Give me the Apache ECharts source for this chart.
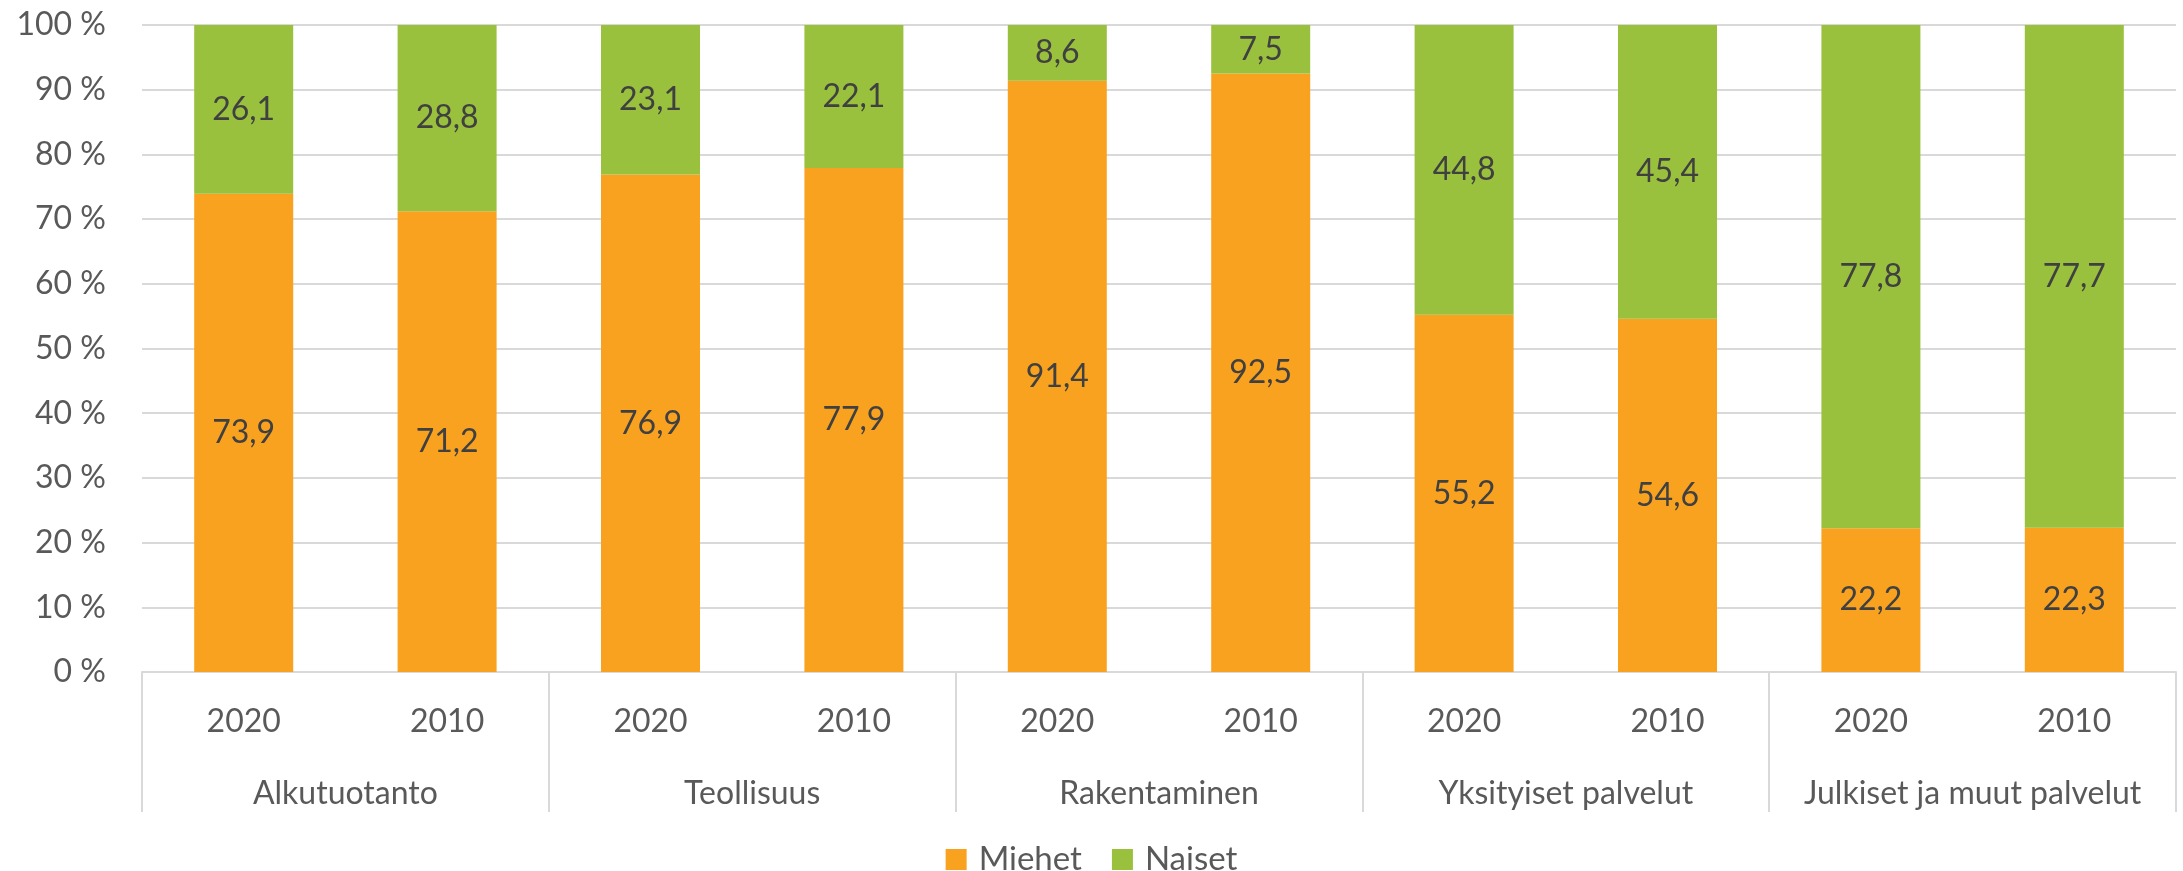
<!DOCTYPE html>
<html>
<head>
<meta charset="utf-8">
<script src="https://cdn.jsdelivr.net/npm/echarts@6/dist/echarts.min.js"></script>
<style>
  html, body { margin: 0; padding: 0; background: #fff; }
  #chart { width: 2183px; height: 871px; }
</style>
</head>
<body>
<div id="chart"></div>
<script>
// years under each bar, sector groups below them
const years = ['2020', '2010', '2020', '2010', '2020', '2010', '2020', '2010', '2020', '2010']
const sectors = ['Alkutuotanto', 'Teollisuus', 'Rakentaminen', 'Yksityiset palvelut', 'Julkiset ja muut palvelut']
const miehet = [73.9, 71.2, 76.9, 77.9, 91.4, 92.5, 55.2, 54.6, 22.2, 22.3]
const naiset = [26.1, 28.8, 23.1, 22.1, 8.6, 7.5, 44.8, 45.4, 77.8, 77.7]
const yTicks = [0, 10, 20, 30, 40, 50, 60, 70, 80, 90, 100]

const FONT = 'Lato'
const fmt = v => v.toFixed(1).replace('.', ',')

const chart = echarts.init(document.getElementById('chart'))

chart.setOption({
  animation: false,
  textStyle: { fontFamily: FONT },
  grid: { left: 142, right: 7, top: 25, bottom: 199 },
  legend: {
    bottom: -10,
    left: 'center',
    itemWidth: 21,
    itemHeight: 21,
    itemGap: 30,
    icon: 'rect',
    textStyle: { fontFamily: FONT, fontSize: 33, color: '#595959', padding: [0, 0, 0, 7] },
    data: ['Miehet', 'Naiset']
  },
  xAxis: [
    {
      type: 'category',
      data: years,
      axisLine: { lineStyle: { color: '#d9d9d9', width: 2 } },
      axisTick: { show: false },
      axisLabel: { fontSize: 32, color: '#595959', margin: 34, interval: 0 }
    },
    {
      type: 'category',
      data: sectors,
      position: 'bottom',
      axisLine: { show: false },
      axisTick: { show: true, length: 140, interval: 0, lineStyle: { color: '#d9d9d9', width: 2 } },
      axisLabel: { fontSize: 32, color: '#595959', margin: 106, interval: 0 }
    }
  ],
  yAxis: {
    type: 'value',
    min: yTicks[0],
    max: yTicks[yTicks.length - 1],
    interval: 10,
    axisLine: { show: false },
    axisTick: { show: false },
    splitLine: { lineStyle: { color: '#d9d9d9', width: 2 } },
    axisLabel: { fontSize: 32, color: '#595959', margin: 36, formatter: v => v + ' %' }
  },
  series: [
    {
      name: 'Miehet',
      type: 'bar',
      stack: 'total',
      xAxisIndex: 0,
      barWidth: 99,
      data: miehet,
      itemStyle: { color: '#F9A21F' },
      label: { show: true, position: 'inside', fontSize: 32, color: '#404040', formatter: p => fmt(p.value) }
    },
    {
      name: 'Naiset',
      type: 'bar',
      stack: 'total',
      xAxisIndex: 0,
      barWidth: 99,
      data: naiset,
      itemStyle: { color: '#99C13D' },
      label: { show: true, position: 'inside', fontSize: 32, color: '#404040', formatter: p => fmt(p.value) }
    }
  ]
})
</script>
</body>
</html>
